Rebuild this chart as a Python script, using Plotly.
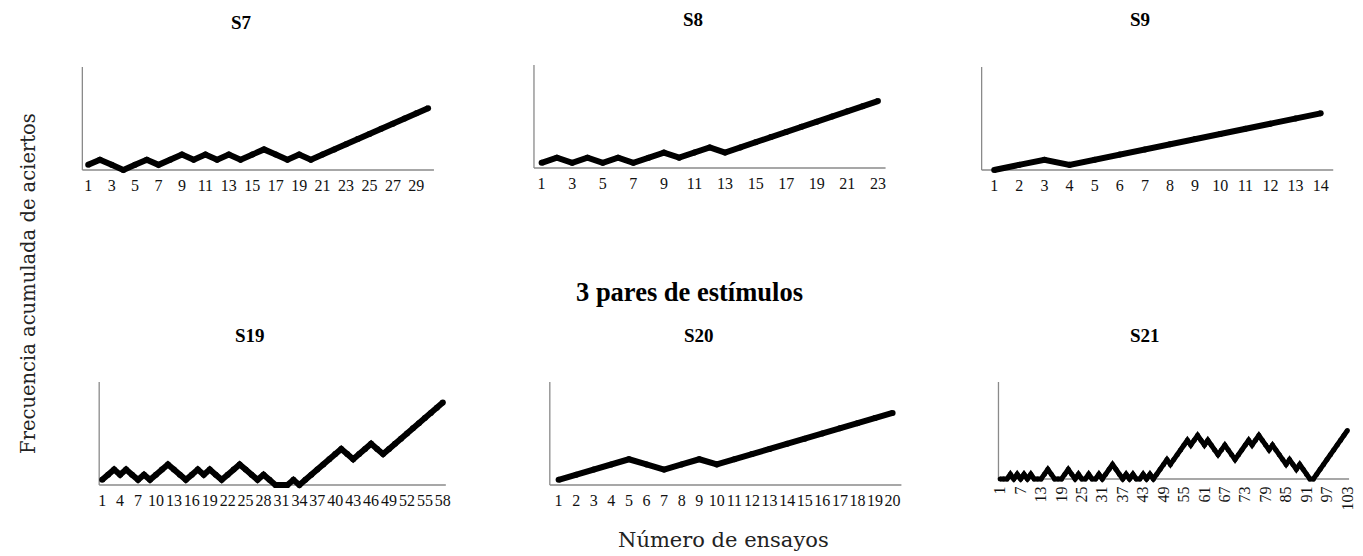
import plotly.graph_objects as go

# ---------------- data ----------------
s7_values = [1, 2, 1, 0, 1, 2, 1, 2, 3, 2, 3, 2, 3, 2, 3, 4, 3, 2, 3, 2,
             3, 4, 5, 6, 7, 8, 9, 10, 11, 12]
s8_values = [1, 2, 1, 2, 1, 2, 1, 2, 3, 2, 3, 4, 3, 4, 5, 6, 7, 8, 9, 10,
             11, 12, 13]
s9_values = [0, 1, 2, 1, 2, 3, 4, 5, 6, 7, 8, 9, 10, 11]
s19_values = [1, 2, 3, 2, 3, 2, 1, 2, 1, 2, 3, 4, 3, 2, 1, 2, 3, 2, 3, 2,
              1, 2, 3, 4, 3, 2, 1, 2, 1, 0, 0, 0, 1, 0, 1, 2, 3, 4, 5, 6,
              7, 6, 5, 6, 7, 8, 7, 6, 7, 8, 9, 10, 11, 12, 13, 14, 15, 16]
s20_values = [1, 2, 3, 4, 5, 4, 3, 4, 5, 4, 5, 6, 7, 8, 9, 10, 11, 12, 13, 14]
s21_values = [0, 0, 0, 1, 0, 1, 0, 1, 0, 1, 0, 0, 0, 1, 2, 1, 0, 0, 0, 1,
              2, 1, 0, 1, 0, 0, 1, 0, 0, 1, 0, 1, 2, 3, 2, 1, 0, 1, 0, 1,
              0, 0, 1, 0, 1, 0, 1, 2, 3, 4, 3, 4, 5, 6, 7, 8, 7, 8, 9, 8,
              7, 8, 7, 6, 5, 6, 7, 6, 5, 4, 5, 6, 7, 8, 7, 8, 9, 8, 7, 6,
              7, 6, 5, 4, 3, 4, 3, 2, 3, 2, 1, 0, 0, 1, 2, 3, 4, 5, 6, 7,
              8, 9, 10]

s7_ticks = list(range(1, 30, 2))
s8_ticks = list(range(1, 24, 2))
s9_ticks = list(range(1, 15))
s19_ticks = list(range(1, 59, 3))
s20_ticks = list(range(1, 21))
s21_ticks = list(range(1, 104, 6))

panel_titles = ["S7", "S8", "S9", "S19", "S20", "S21"]
group_title = "3 pares de estímulos"
y_title = "Frecuencia acumulada de aciertos"
x_title = "Número de ensayos"

# ---------------- layout (pixels, measured on the 1363x556 page) ----------------
PAGE_W, PAGE_H = 1363, 556
OFF = 8  # default body margin of the html page
W, H = PAGE_W - OFF, PAGE_H - OFF


def px(x):
    return (x - OFF) / W


def py(y):
    return 1 - (y - OFF) / H


# values, ticks, x0, x1, top(y=20), baseline(y=0), line width, title x, title y, tick angle
panels = [
    (s7_values, s7_ticks, 76, 431, 67, 170, 6, 237, 22, 0),
    (s8_values, s8_ticks, 532, 887, 65, 168, 6, 693, 20, 0),
    (s9_values, s9_ticks, 984, 1339, 67, 170, 6, 1144, 20, 0),
    (s19_values, s19_ticks, 93, 443, 382, 485, 6, 245, 335, 0),
    (s20_values, s20_ticks, 548, 903, 382, 485, 6, 699, 335, 0),
    (s21_values, s21_ticks, 1001, 1355, 382, 479, 5, 1149, 335, -90),
]
YMAX = 20
YMIN = -0.7
AXIS_COLOR = "#8a8a8a"

fig = go.Figure()
shapes = []
annotations = []

for i, (vals, ticks, x0, x1, top, base, lw, tx, ty, tangle) in enumerate(panels):
    idx = "" if i == 0 else str(i + 1)
    n = len(vals)
    xs = list(range(1, n + 1))
    u = (base - top) / YMAX
    bottom_px = base - YMIN * u
    fig.add_trace(go.Scatter(
        x=xs, y=vals, mode="lines+markers",
        line=dict(color="black", width=lw),
        marker=dict(color="black", size=lw, line=dict(width=0)),
        cliponaxis=False, showlegend=False, hoverinfo="skip",
        xaxis="x" + idx, yaxis="y" + idx,
    ))
    fig.layout["xaxis" + idx] = dict(
        domain=[px(x0), px(x1)], anchor="y" + idx,
        range=[0.5, n + 0.5], showgrid=False, zeroline=False, showline=False,
        tickmode="array", tickvals=ticks, ticktext=[str(t) for t in ticks],
        ticks="", tickangle=tangle,
        tickfont=dict(family="Liberation Serif", size=16, color="#111"),
    )
    fig.layout["yaxis" + idx] = dict(
        domain=[py(bottom_px), py(top)], anchor="x" + idx,
        range=[YMIN, YMAX], showgrid=False, zeroline=False, showline=False,
        showticklabels=False, ticks="",
    )
    shapes.append(dict(type="line", xref="paper", yref="paper",
                       x0=px(x0), x1=px(x1), y0=py(base), y1=py(base),
                       line=dict(color=AXIS_COLOR, width=1.3), layer="below"))
    shapes.append(dict(type="line", xref="paper", yref="paper",
                       x0=px(x0), x1=px(x0), y0=py(base), y1=py(top),
                       line=dict(color=AXIS_COLOR, width=1.3), layer="below"))
    annotations.append(dict(text="<b>%s</b>" % panel_titles[i], x=px(tx), y=py(ty),
                            xref="paper", yref="paper", showarrow=False,
                            xanchor="center", yanchor="middle",
                            font=dict(family="Liberation Serif", size=19, color="black")))

annotations.append(dict(text="<b>%s</b>" % group_title, x=px(689), y=py(292),
                        xref="paper", yref="paper", showarrow=False,
                        xanchor="center", yanchor="middle",
                        font=dict(family="Liberation Serif", size=26.5, color="black")))
annotations.append(dict(text=y_title, x=px(21), y=py(283), textangle=-90,
                        xref="paper", yref="paper", showarrow=False,
                        xanchor="center", yanchor="middle",
                        font=dict(family="DejaVu Serif", size=19.5, color="#222")))
annotations.append(dict(text=x_title, x=px(723), y=py(540),
                        xref="paper", yref="paper", showarrow=False,
                        xanchor="center", yanchor="middle",
                        font=dict(family="DejaVu Serif", size=21, color="#222")))

fig.update_layout(
    width=W, height=H, margin=dict(l=0, r=0, t=0, b=0),
    paper_bgcolor="white", plot_bgcolor="white",
    shapes=shapes, annotations=annotations,
)

fig.write_html("out.html")
